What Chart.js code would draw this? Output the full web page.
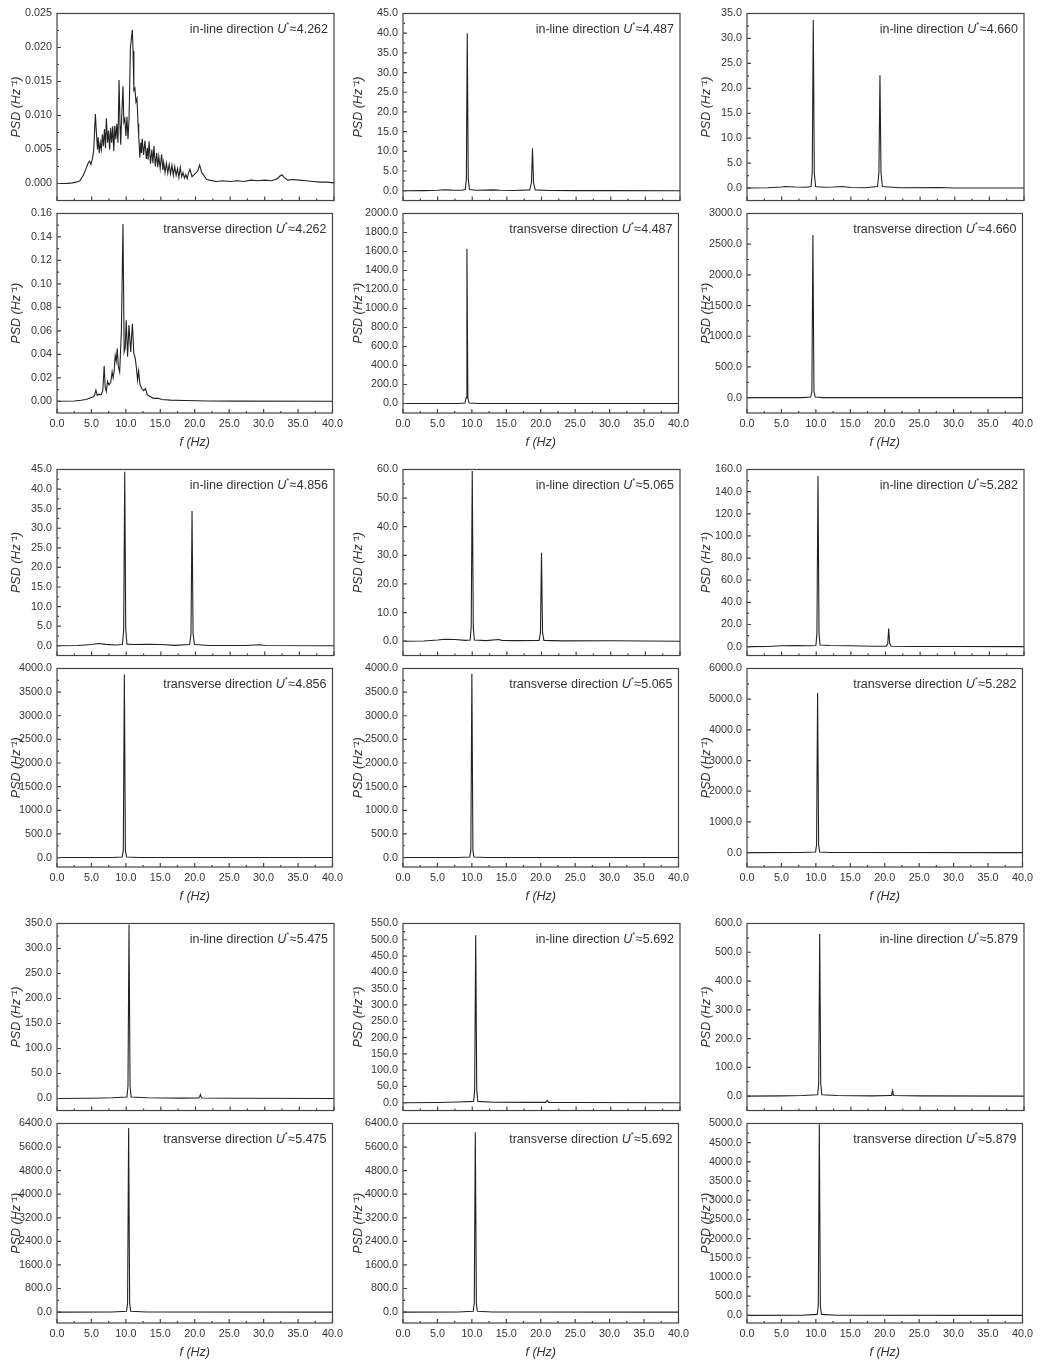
<!DOCTYPE html>
<html>
<head>
<meta charset="utf-8">
<script src="https://cdn.jsdelivr.net/npm/chart.js@4.4.0/dist/chart.umd.min.js"></script>
<style>
  body { margin: 0; background: #fff; overflow: hidden; }
  #wrap { position: relative; width: 1046px; height: 1361px; }
  #wrap canvas { position: absolute; }
</style>
</head>
<body>
<div id="wrap"></div>
<script>
// reduced velocity of each run (one pair of panels per run)
const speeds = ['4.262', '4.487', '4.660', '4.856', '5.065', '5.282', '5.475', '5.692', '5.879'];

// x ticks (Hz), labels on multiples of 5
const freqTicks = [0, 2.5, 5, 7.5, 10, 12.5, 15, 17.5, 20, 22.5, 25, 27.5, 30, 32.5, 35, 37.5, 40];

// y axis ranges and label step per panel
const inLineMax  = [0.025, 45, 35, 45, 60, 160, 350, 550, 600];
const inLineMin  = [-0.0025, -2.5, -2.5, -2.5, -5, -8, -24, -24, -50];
const inLineStep = [0.005, 5, 5, 5, 10, 20, 50, 50, 100];
const transMax   = [0.16, 2000, 3000, 4000, 4000, 6000, 6400, 6400, 5000];
const transMin   = [-0.01, -100, -250, -200, -200, -470, -370, -370, -200];
const transStep  = [0.02, 200, 500, 500, 500, 1000, 800, 800, 500];

// PSD curves as [f (Hz), PSD] pairs
const inLine4262 = [[0,0],[1.5,0.00002],[2.2,0.0001],[2.8,0.0002],[3.3,0.0004],[3.8,0.0012],[4.2,0.0022],[4.5,0.003],[4.7,0.0033],
  [4.9,0.0028],[5.1,0.0036],[5.3,0.0048],[5.54,0.0102],[5.7,0.0073],[5.85,0.005],[5.95,0.0068],[6.1,0.0045],[6.25,0.006],[6.4,0.005],
  [6.55,0.0072],[6.7,0.0055],[6.85,0.008],[7.0,0.0052],[7.13,0.0096],[7.3,0.006],[7.45,0.0078],[7.6,0.005],[7.75,0.0082],[7.9,0.006],
  [8.05,0.0084],[8.2,0.0048],[8.35,0.0085],[8.5,0.0065],[8.65,0.0088],[8.8,0.006],[8.96,0.0152],[9.1,0.0085],[9.2,0.0057],[9.35,0.01],
  [9.53,0.0143],[9.65,0.009],[9.8,0.0095],[9.95,0.007],[10.1,0.0098],[10.25,0.0065],[10.4,0.0093],[10.6,0.02],[10.88,0.0226],[10.98,0.0195],
  [11.1,0.0137],[11.25,0.014],[11.4,0.012],[11.55,0.0125],[11.7,0.0088],[11.8,0.007],[11.96,0.0038],[12.1,0.006],[12.2,0.0045],
  [12.3,0.0066],[12.5,0.0042],[12.7,0.0063],[12.9,0.0036],[13.05,0.0052],[13.15,0.0035],[13.3,0.0062],[13.5,0.0029],[13.7,0.005],
  [13.85,0.003],[14.0,0.0055],[14.2,0.0025],[14.4,0.0045],[14.55,0.0024],[14.7,0.004],[14.9,0.0022],[15.1,0.0043],[15.3,0.002],
  [15.4,0.0031],[15.6,0.0016],[15.8,0.003],[16.0,0.0015],[16.2,0.0028],[16.4,0.0014],[16.6,0.0027],[16.8,0.0012],[17.0,0.0025],
  [17.2,0.0012],[17.4,0.0022],[17.6,0.0009],[17.8,0.0024],[18.0,0.001],[18.2,0.0016],[18.4,0.0008],[18.6,0.0013],[18.8,0.0007],
  [19.0,0.0016],[19.2,0.0021],[19.5,0.001],[19.8,0.0013],[20.3,0.0018],[20.6,0.0027],[20.9,0.0016],[21.2,0.0012],[21.6,0.0006],
  [22,0.0005],[23,0.0003],[24,0.0004],[25,0.0003],[26,0.0004],[27,0.0003],[28,0.0005],[29,0.0004],[30,0.0005],[31,0.0004],
  [31.8,0.0007],[32.2,0.0011],[32.5,0.0013],[32.8,0.0009],[33.3,0.0005],[34,0.0006],[35,0.0005],[36,0.0004],[37,0.0003],
  [38,0.0002],[39,0.0002],[40,0.0001]];
const trans4262 = [[0,0],[2.5,0.0002],[3.5,0.0008],[4.2,0.0015],[4.8,0.0028],[5.2,0.0037],[5.45,0.005],[5.65,0.0095],[5.85,0.005],
  [6.1,0.006],[6.4,0.0055],[6.65,0.009],[6.85,0.03],[7.0,0.012],[7.15,0.0085],[7.35,0.017],[7.55,0.014],[7.8,0.016],[8.0,0.025],
  [8.15,0.02],[8.3,0.026],[8.45,0.039],[8.6,0.034],[8.75,0.045],[8.9,0.03],[9.1,0.025],[9.35,0.06],[9.58,0.151],[9.75,0.042],
  [9.9,0.045],[10.05,0.069],[10.25,0.038],[10.45,0.065],[10.7,0.042],[10.95,0.066],[11.15,0.041],[11.35,0.037],[11.5,0.03],
  [11.7,0.018],[11.85,0.026],[12.05,0.014],[12.3,0.011],[12.6,0.009],[12.85,0.0107],[13.1,0.0056],[13.5,0.004],[14.0,0.0025],
  [14.7,0.0025],[15.2,0.0015],[16.5,0.001],[18.5,0.0006],[22,0.0002],[26,0.0001],[40,0]];

const inLine4487 = [[0,0],[3,0.02],[5,0.1],[6,0.25],[7,0.15],[8.5,0.1],[9.0,0.3],[9.15,3],[9.28,40],[9.42,3],[9.6,0.3],[10.5,0.1],
  [12,0.15],[13,0.2],[14,0.1],[16,0.05],[18.3,0.2],[18.55,2],[18.7,10.8],[18.85,2],[19.1,0.2],[21,0.05],[25,0.02],[30,0.02],[40,0]];
const trans4487 = [[0,0],[8,0.5],[9.0,5],[9.15,60],[9.28,1630],[9.42,60],[9.6,5],[11,0.5],[40,0]];

const inLine4660 = [[0,0],[3,0.05],[5,0.2],[5.5,0.3],[7,0.2],[8.5,0.15],[9.25,0.3],[9.42,3],[9.57,33.7],[9.72,3],[9.9,0.3],[11,0.15],
  [12.5,0.2],[13.8,0.3],[15,0.1],[17,0.05],[18.85,0.3],[19.05,3],[19.2,22.6],[19.35,3],[19.55,0.3],[22,0.05],[28,0.1],[30,0.02],[40,0]];
const trans4660 = [[0,0],[8,0.5],[9.25,10],[9.42,100],[9.57,2650],[9.72,100],[9.9,10],[11,0.5],[40,0]];

const inLine4856 = [[0,0],[3,0.05],[5,0.3],[6,0.55],[7,0.35],[8.5,0.2],[9.45,0.3],[9.63,4],[9.78,44.4],[9.93,4],[10.1,0.4],[11,0.3],
  [13,0.35],[15,0.3],[17,0.1],[19.15,0.3],[19.35,3],[19.5,34.4],[19.65,3],[19.85,0.3],[22,0.05],[27,0.05],[29.4,0.25],[30,0.05],[40,0]];
const trans4856 = [[0,0],[8,0.5],[9.45,10],[9.63,150],[9.78,3870],[9.93,150],[10.1,10],[12,0.5],[40,0]];

const inLine5065 = [[0,0],[3,0.05],[5,0.4],[6,0.7],[7.5,0.6],[9,0.3],[9.7,0.4],[9.85,5],[10.0,59.5],[10.15,5],[10.3,0.4],[12,0.2],
  [13.8,0.6],[14.3,0.3],[16,0.2],[19.65,0.3],[19.85,3],[20.0,30.9],[20.15,3],[20.35,0.3],[23,0.1],[30,0.15],[40,0]];
const trans5065 = [[0,0],[8,1],[9.7,10],[9.85,150],[10.0,3890],[10.15,150],[10.3,10],[12,1],[40,0]];

const inLine5282 = [[0,0],[3,0.2],[5,0.8],[7,1.0],[9,0.8],[9.95,1],[10.1,12],[10.25,154],[10.4,12],[10.55,1.5],[12,1.0],[15,0.8],
  [18,0.4],[20.15,0.5],[20.33,3],[20.46,16.3],[20.6,3],[20.8,0.4],[24,0.2],[30,0.1],[40,0]];
const trans5282 = [[0,0],[8,2],[9.95,20],[10.1,250],[10.25,5200],[10.4,250],[10.55,20],[12,2],[40,0]];

const inLine5475 = [[0,0],[5,0.5],[8,1.5],[10.1,3],[10.25,25],[10.4,348],[10.55,25],[10.7,3],[13,1.5],[18,0.8],[20.5,1],[20.62,4],
  [20.7,8],[20.8,4],[20.95,1],[25,0.5],[40,0]];
const trans5475 = [[0,0],[8,3],[10.1,30],[10.25,300],[10.4,6250],[10.55,300],[10.7,30],[13,3],[40,0]];

const inLine5692 = [[0,0],[5,0.5],[8,2],[10.2,4],[10.35,40],[10.5,514],[10.65,40],[10.8,4],[13,1.5],[18,1],[20.6,1],[20.72,4],
  [20.8,7],[20.9,4],[21.05,1],[25,0.5],[40,0]];
const trans5692 = [[0,0],[8,3],[10.2,30],[10.35,300],[10.5,6100],[10.65,300],[10.8,30],[13,3],[40,0]];

const inLine5879 = [[0,0],[5,0.8],[8,2],[10.2,5],[10.35,45],[10.5,563],[10.65,45],[10.8,5],[13,2],[18,1],[20.8,2],[20.92,9],
  [21.0,18.5],[21.08,9],[21.2,2],[25,0.8],[40,0]];
const trans5879 = [[0,0],[8,2],[10.2,25],[10.35,250],[10.5,4980],[10.65,250],[10.8,25],[13,2],[40,0]];

const inLineData = [inLine4262, inLine4487, inLine4660, inLine4856, inLine5065, inLine5282, inLine5475, inLine5692, inLine5879];
const transData = [trans4262, trans4487, trans4660, trans4856, trans5065, trans5282, trans5475, trans5692, trans5879];

// page layout
const colLeft = [57, 403, 747];
const rowTop = [12, 468, 922];
const rowMid = [212, 667, 1122];
const rowBot = [413, 867, 1323];
const plotW = 277;
const yAxisW = 57;
const titleGap = [40, 44, 40];
const titleSize = 12.5;

const family = '"Liberation Sans", Arial, sans-serif';
const textColor = '#333';
const axisColor = '#444';
const lineColor = '#222';
const wrap = document.getElementById('wrap');

const isMajor = (v, step) => Math.abs(v / step - Math.round(v / step)) < 1e-6;

function framePlugin(p, yTicks) {
  return {
    id: 'frame',
    afterDraw(chart) {
      const { ctx, chartArea: a, scales: { x, y } } = chart;
      ctx.save();
      ctx.strokeStyle = axisColor;
      ctx.lineWidth = 1.2;
      ctx.strokeRect(a.left, a.top, a.right - a.left, a.bottom - a.top);
      ctx.beginPath();
      freqTicks.forEach(v => {
        const px = x.getPixelForValue(v);
        ctx.moveTo(px, a.bottom);
        ctx.lineTo(px, a.bottom - (isMajor(v, 5) ? 4 : 2));
      });
      yTicks.forEach(v => {
        const py = y.getPixelForValue(v);
        ctx.moveTo(a.left, py);
        ctx.lineTo(a.left + (isMajor(v, p.step) ? 4 : 2), py);
      });
      ctx.stroke();

      // "in-line direction U*≈4.262", drawn right to left
      const ty = a.top + 16;
      let tx = a.right - 6;
      ctx.fillStyle = textColor;
      ctx.textAlign = 'right';
      ctx.textBaseline = 'middle';
      ctx.font = '12.5px ' + family;
      const tail = '\u2248' + p.speed;
      ctx.fillText(tail, tx, ty);
      tx -= ctx.measureText(tail).width + 0.5;
      ctx.font = '8px ' + family;
      ctx.fillText('*', tx, ty - 5);
      tx -= ctx.measureText('*').width;
      ctx.font = 'italic 12.5px ' + family;
      ctx.fillText('U', tx, ty);
      tx -= ctx.measureText('U').width;
      ctx.font = '12.5px ' + family;
      ctx.fillText(p.note, tx, ty);
      ctx.restore();
    }
  };
}

function makePanel(p) {
  const padTop = 10, padRight = 14;
  const xAxisH = p.showX ? 42 : 0;
  const canvas = document.createElement('canvas');
  canvas.width = yAxisW + plotW + padRight;
  canvas.height = padTop + (p.bottom - p.top) + xAxisH;
  canvas.style.left = (p.left - yAxisW) + 'px';
  canvas.style.top = (p.top - padTop) + 'px';
  wrap.appendChild(canvas);

  const minor = p.step / 2;
  const yTicks = [];
  for (let k = 0; k * minor <= p.yMax * (1 + 1e-9); k++) yTicks.push(+(k * minor).toFixed(6));

  new Chart(canvas, {
    type: 'line',
    data: {
      datasets: [{
        data: p.data.map(([x, y]) => ({ x, y })),
        borderColor: lineColor,
        borderWidth: 1.1,
        pointRadius: 0,
        tension: 0,
        fill: false
      }]
    },
    options: {
      responsive: false,
      animation: false,
      devicePixelRatio: 1,
      layout: { padding: { top: padTop, right: padRight, bottom: 0, left: 0 } },
      plugins: { legend: { display: false }, tooltip: { enabled: false } },
      scales: {
        x: {
          type: 'linear',
          min: 0,
          max: 40,
          display: p.showX,
          afterBuildTicks: s => { s.ticks = freqTicks.map(v => ({ value: v })); },
          afterFit: s => { s.height = xAxisH; },
          grid: { display: false, drawTicks: false },
          border: { display: false },
          ticks: {
            autoSkip: false,
            maxRotation: 0,
            padding: 5,
            font: { family, size: 10.8 },
            color: textColor,
            callback: v => isMajor(v, 5) ? v.toFixed(1) : ''
          },
          title: {
            display: true,
            text: 'f (Hz)',
            font: { family, size: 12.5, style: 'italic' },
            color: textColor,
            padding: { top: 0, bottom: 4.5 }
          }
        },
        y: {
          type: 'linear',
          min: p.yMin,
          max: p.yMax,
          afterBuildTicks: s => { s.ticks = yTicks.map(v => ({ value: v })); },
          afterFit: s => { s.width = yAxisW; },
          grid: { display: false, drawTicks: false },
          border: { display: false },
          ticks: {
            autoSkip: false,
            padding: 5,
            font: { family, size: 10.8 },
            color: textColor,
            callback: v => isMajor(v, p.step) ? v.toFixed(p.dec) : ''
          },
          title: {
            display: true,
            text: 'PSD (Hz\u207B\u00B9)',
            font: { family, size: titleSize, style: 'italic' },
            color: textColor,
            padding: { top: yAxisW - p.gap - titleSize * 0.6, bottom: 0 }
          }
        }
      }
    },
    plugins: [framePlugin(p, yTicks)]
  });
}

for (let i = 0; i < 9; i++) {
  const r = Math.floor(i / 3), c = i % 3;
  makePanel({
    data: inLineData[i], yMin: inLineMin[i], yMax: inLineMax[i], step: inLineStep[i], dec: i === 0 ? 3 : 1,
    note: 'in-line direction ', speed: speeds[i],
    left: colLeft[c], top: rowTop[r], bottom: rowMid[r], gap: titleGap[c], showX: false
  });
  makePanel({
    data: transData[i], yMin: transMin[i], yMax: transMax[i], step: transStep[i], dec: i === 0 ? 2 : 1,
    note: 'transverse direction ', speed: speeds[i],
    left: colLeft[c], top: rowMid[r], bottom: rowBot[r], gap: titleGap[c], showX: true
  });
}
</script>
</body>
</html>
